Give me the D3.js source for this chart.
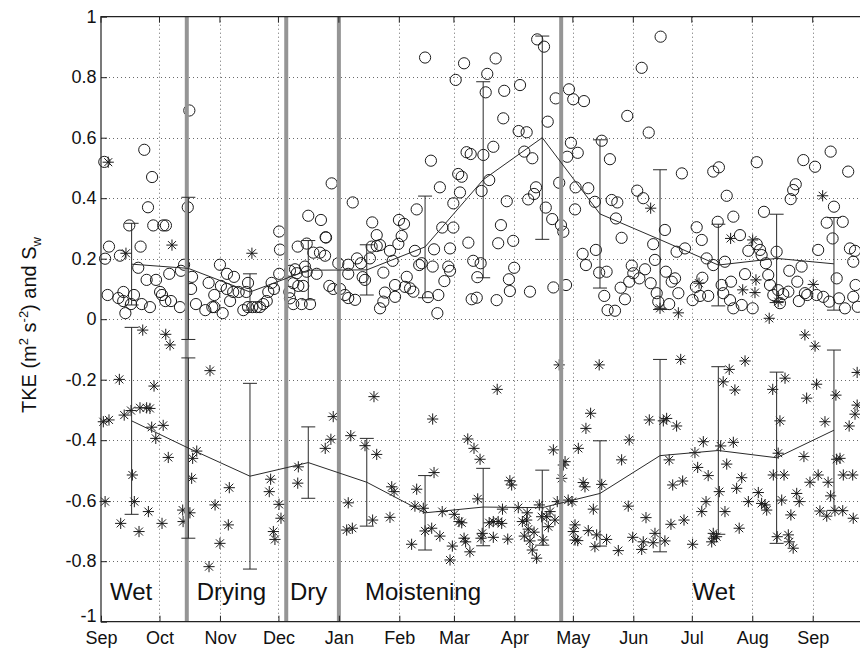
<!DOCTYPE html>
<html>
<head>
<meta charset="utf-8">
<script src="https://cdn.jsdelivr.net/npm/d3@7/dist/d3.min.js"></script>
<style>
  body { margin: 0; background: #fff; }
  svg { display: block; }
  text { font-family: "Liberation Sans", Arial, Helvetica, sans-serif; fill: #111; }
</style>
</head>
<body>
<svg id="chart" width="860" height="649"></svg>
<script>
// ---- data -------------------------------------------------------------
// Day numbers count days since 1 September of the first year.
const yTickValues = [-1, -0.8, -0.6, -0.4, -0.2, 0, 0.2, 0.4, 0.6, 0.8, 1];
const yTickLabels = ["-1", "-0.8", "-0.6", "-0.4", "-0.2", "0", "0.2", "0.4", "0.6", "0.8", "1"];
const monthLabels = ["Sep", "Oct", "Nov", "Dec", "Jan", "Feb", "Mar", "Apr", "May", "Jun", "Jul", "Aug", "Sep"];

// season boundaries (days) and season names
const seasonBoundaryDays = [44, 95, 122, 236];
const seasonNames = ["Wet", "Drying", "Dry", "Moistening", "Wet"];
const seasonLabelDays = [4.6, 49.1, 96.9, 135.4, 303.4];
const seasonLabelLevel = -0.928;

// monthly bins: centre day, mean and standard deviation
const binDays = [15.7, 44.8, 76.4, 106.3, 136.3, 166.2, 196, 226.3, 255.9, 286.7, 316.6, 346.5, 375.9];
const tkeMean = [0.182, 0.168, 0.090, 0.162, 0.163, 0.239, 0.461, 0.600, 0.348, 0.263, 0.179, 0.201, 0.183];
const tkeStd  = [0.135, 0.235, 0.060, 0.098, 0.083, 0.168, 0.324, 0.336, 0.245, 0.231, 0.135, 0.146, 0.153];
const swMean  = [-0.336, -0.426, -0.519, -0.474, -0.539, -0.640, -0.621, -0.623, -0.576, -0.451, -0.434, -0.458, -0.367];
const swStd   = [0.309, 0.298, 0.307, 0.118, 0.145, 0.123, 0.128, 0.124, 0.174, 0.318, 0.277, 0.283, 0.265];

// daily TKE (circles): [day, value]
const tkePoints = [
[1.7,0.52],[45.3,0.69],[22.2,0.56],[26.2,0.47],[24.1,0.37],[44.5,0.37],[14.5,0.31],[26.8,0.31],[31.9,0.31],[33.3,0.31],
[4.1,0.24],[2.1,0.20],[9.7,0.21],[20.3,0.24],[91.4,0.29],[91.8,0.23],[100.9,0.24],[19.1,0.17],[23.4,0.13],[28.2,0.13],
[35.0,0.15],[41.0,0.16],[42.6,0.18],[46.7,0.14],[46.2,0.10],[55.2,0.12],[61.0,0.18],[64.6,0.15],[68.2,0.14],[61.5,0.11],
[67.8,0.09],[70.6,0.09],[75.4,0.12],[74.5,0.09],[3.4,0.08],[8.9,0.07],[11.5,0.09],[16.9,0.08],[11.4,0.06],[15.4,0.05],
[20.9,0.05],[12.5,0.02],[25.1,0.04],[30.3,0.09],[31.3,0.08],[33.0,0.06],[35.9,0.06],[40.5,0.04],[48.7,0.05],[53.5,0.03],
[57.1,0.04],[58.1,0.04],[62.4,0.02],[58.1,0.08],[66.2,0.06],[73.0,0.03],[75.4,0.04],[77.6,0.04],[79.8,0.04],[81.5,0.04],
[83.2,0.05],[85.0,0.06],[85.8,0.09],[88.7,0.10],[91.4,0.15],[96.6,0.09],[98.6,0.05],[99.5,0.165],[101.2,0.11],[64.5,0.10],
[87.5,0.12],[96.9,0.16],[102.9,0.05],[107.2,0.05],[105.5,0.25],[108.9,0.22],[112.3,0.22],[114.9,0.21],[115.4,0.27],[110.6,0.15],
[103.7,0.11],[117.1,0.11],[119.1,0.10],[122.6,0.10],[125.1,0.08],[126.8,0.07],[121.7,0.185],[126.8,0.18],[126.8,0.15],
[166.2,0.865],[186.2,0.846],[202.4,0.862],[181.9,0.791],[198.1,0.811],[197.3,0.75],[206.8,0.755],[214.9,0.774],[223.7,0.925],[227.2,0.901],
[233.2,0.73],[240.0,0.76],[242.2,0.727],[206.3,0.664],[229.1,0.653],[214.2,0.622],[218.3,0.618],[201.2,0.57],[187.5,0.552],[189.6,0.546],
[196.1,0.543],[217.1,0.554],[221.2,0.532],[239.1,0.537],[241.0,0.583],[244.5,0.55],[169.2,0.524],[183.2,0.48],[185.0,0.471],[199.1,0.46],
[235.0,0.451],[243.4,0.436],[173.8,0.436],[184.1,0.419],[195.2,0.424],[223.1,0.436],[222.1,0.414],[219.1,0.396],[208.1,0.39],[180.7,0.383],
[118.3,0.449],[129.1,0.386],[161.9,0.363],[228.1,0.369],[231.4,0.331],[235.9,0.311],[237.1,0.289],[243.1,0.363],[106.3,0.342],[112.8,0.328],
[115.2,0.271],[139.1,0.32],[141.4,0.278],[152.8,0.328],[155.4,0.315],[154.2,0.275],[152.5,0.249],[175.0,0.303],[180.7,0.303],[205.1,0.311],
[138.8,0.24],[141.4,0.242],[143.1,0.245],[148.2,0.226],[149.6,0.193],[161.0,0.226],[170.8,0.231],[179.0,0.234],[188.4,0.253],[203.7,0.251],
[211.4,0.259],[131.3,0.201],[133.3,0.185],[144.8,0.154],[156.8,0.14],[163.2,0.179],[164.5,0.185],[170.1,0.174],[178.1,0.174],[179.0,0.16],
[190.9,0.193],[194.7,0.185],[193.0,0.139],[176.1,0.126],[211.9,0.17],[209.2,0.132],[209.7,0.093],[220.0,0.091],[232.0,0.105],[238.5,0.113],
[100.4,0.152],[98.6,0.119],[96.9,0.069],[104.6,0.174],[105.5,0.157],[130.3,0.064],[134.2,0.139],[135.4,0.13],[145.6,0.088],[144.8,0.058],
[143.1,0.036],[150.8,0.113],[155.9,0.107],[158.5,0.102],[160.2,0.091],[150.8,0.074],[167.7,0.073],[173.0,0.08],[172.5,0.02],[190.1,0.066],
[192.7,0.071],[202.9,0.063],[137.9,0.201],
[287.0,0.934],[277.3,0.831],[247.7,0.721],[269.9,0.672],[280.9,0.617],[256.8,0.59],[261.0,0.529],[297.9,0.482],[314.0,0.488],[316.9,0.502],
[336.3,0.519],[360.2,0.526],[366.2,0.504],[374.2,0.554],[383.2,0.488],[249.9,0.433],[253.3,0.388],[261.9,0.394],[264.8,0.386],[275.0,0.425],
[278.1,0.4],[320.9,0.408],[353.7,0.397],[355.0,0.427],[356.3,0.446],[264.1,0.333],[267.0,0.269],[289.2,0.295],[283.2,0.248],[305.5,0.304],
[308.1,0.262],[316.3,0.322],[324.3,0.339],[340.0,0.355],[372.2,0.319],[375.9,0.372],[380.4,0.322],[375.2,0.267],[346.5,0.223],[367.8,0.229],
[384.1,0.234],[386.7,0.226],[247.0,0.216],[248.7,0.179],[253.8,0.229],[255.5,0.154],[259.3,0.157],[258.1,0.077],[259.8,0.03],[263.6,0.028],
[266.5,0.104],[268.7,0.066],[272.2,0.177],[273.0,0.152],[270.9,0.124],[276.1,0.135],[279.0,0.165],[281.9,0.119],[285.0,0.086],[284.1,0.196],
[289.7,0.157],[292.7,0.124],[294.4,0.135],[296.1,0.086],[291.4,0.05],[299.5,0.234],[303.4,0.063],[307.2,0.077],[311.4,0.077],[305.1,0.107],
[308.4,0.137],[310.6,0.201],[314.0,0.179],[318.3,0.113],[319.1,0.086],[322.6,0.063],[324.3,0.036],[328.6,0.047],[320.0,0.19],[323.1,0.124],
[330.3,0.149],[332.0,0.226],[336.3,0.248],[338.0,0.229],[338.8,0.212],[341.0,0.185],[342.2,0.146],[343.1,0.113],[344.8,0.08],[334.2,0.036],
[347.3,0.096],[349.9,0.083],[352.5,0.091],[348.2,0.053],[353.0,0.16],[357.9,0.06],[361.0,0.086],[362.2,0.08],[367.0,0.08],[370.4,0.074],
[359.3,0.174],[357.1,0.124],[373.5,0.058],[377.3,0.135],[381.5,0.036],[385.8,0.074],[388.1,0.041],[387.0,0.113],[327.7,0.278],[385.8,0.19],
[295.2,0.223],[285.8,0.058],[378.5,0.069]
];

// daily S_w (asterisks): [day, value]
const swPoints = [
[3.7,0.519],[12.8,0.218],[36.4,0.245],[77.4,0.218],[281.9,0.367],[322.9,0.267],[334.2,0.262],[370.1,0.408],[306.7,0.119],[329.1,0.097],
[335.9,0.130],[335.4,0.088],[286.7,0.036],[296.1,0.021],[342.7,0.003],[365.3,0.115],[347.3,0.058],
[21.4,-0.036],[33.2,-0.050],[35.4,-0.085],[9.4,-0.199],[27.2,-0.221],[55.9,-0.170],[1.2,-0.339],[4.1,-0.333],[11.9,-0.317],[15.4,-0.302],
[20.0,-0.293],[23.4,-0.293],[25.1,-0.295],[26.0,-0.357],[28.1,-0.394],[31.9,-0.351],[34.5,-0.457],[16.1,-0.515],[2.1,-0.603],[17.1,-0.603],
[24.3,-0.636],[10.1,-0.675],[19.5,-0.702],[31.3,-0.675],[41.9,-0.631],[42.1,-0.669],[45.6,-0.640],[47.0,-0.460],[49.1,-0.436],[46.5,-0.526],
[65.8,-0.557],[58.5,-0.614],[65.3,-0.680],[61.0,-0.741],[55.4,-0.818],[87.0,-0.529],[86.3,-0.570],[91.3,-0.612],[92.3,-0.658],[88.4,-0.702],
[89.2,-0.728],[101.2,-0.488],[100.9,-0.542],[119.1,-0.322],[117.9,-0.397],[115.0,-0.427],[126.8,-0.607],[126.0,-0.697],[128.9,-0.691],[128.1,-0.385],
[140.0,-0.256],[135.4,-0.418],[141.4,-0.447],[139.3,-0.664],[148.2,-0.655],[149.1,-0.554],[150.3,-0.570],[170.1,-0.330],[203.2,-0.232],[235.0,-0.151],
[170.8,-0.507],[161.9,-0.562],[161.0,-0.618],[165.3,-0.625],[166.2,-0.700],[169.6,-0.691],[159.3,-0.744],[173.8,-0.717],[175.0,-0.636],[180.2,-0.750],
[179.0,-0.796],[181.2,-0.645],[183.6,-0.669],[185.0,-0.673],[186.2,-0.724],[187.0,-0.736],[189.2,-0.769],[188.1,-0.396],[191.3,-0.427],[194.4,-0.463],
[193.2,-0.594],[194.9,-0.724],[195.5,-0.708],[199.1,-0.673],[201.2,-0.669],[203.7,-0.669],[205.5,-0.675],[201.2,-0.721],[205.9,-0.628],[208.6,-0.727],
[209.7,-0.534],[210.6,-0.548],[214.0,-0.623],[216.1,-0.669],[218.3,-0.664],[218.6,-0.640],[217.1,-0.717],[220.0,-0.733],[221.2,-0.763],[223.4,-0.790],
[222.1,-0.704],[224.8,-0.614],[226.0,-0.653],[226.8,-0.730],[228.6,-0.653],[229.4,-0.686],[230.3,-0.636],[232.8,-0.664],[232.0,-0.432],[238.0,-0.471],
[237.1,-0.482],[236.3,-0.526],[234.0,-0.603],[239.6,-0.598],[242.2,-0.702],[243.1,-0.680],[243.1,-0.730],[244.5,-0.732],[244.8,-0.427],[251.1,-0.311],
[248.7,-0.361],[247.3,-0.540],[248.2,-0.554],[252.5,-0.628],[249.9,-0.699],[254.2,-0.713],[253.3,-0.752],[255.5,-0.151],[256.8,-0.546],[259.3,-0.728],
[265.3,-0.765],[267.0,-0.465],[270.9,-0.399],[270.4,-0.618],[272.7,-0.721],[277.3,-0.761],[278.1,-0.736],[279.5,-0.656],[281.2,-0.333],[288.4,-0.336],
[290.1,-0.328],[295.2,-0.353],[297.3,-0.133],[291.4,-0.465],[293.2,-0.548],[298.3,-0.535],[284.1,-0.708],[283.2,-0.739],[289.2,-0.733],[292.3,-0.678],
[299.0,-0.664],[303.4,-0.744],[304.6,-0.441],[308.9,-0.405],[306.0,-0.490],[311.4,-0.517],[310.3,-0.603],[308.1,-0.636],[314.0,-0.708],[314.4,-0.724],
[313.2,-0.736],[315.7,-0.719],[317.1,-0.570],[317.8,-0.419],[319.1,-0.207],[322.2,-0.166],[325.1,-0.234],[320.9,-0.479],[324.3,-0.407],[328.6,-0.524],
[326.0,-0.559],[320.0,-0.636],[327.3,-0.691],[330.3,-0.138],[332.0,-0.603],[337.1,-0.573],[338.8,-0.609],[340.5,-0.614],[341.4,-0.631],[344.5,-0.232],
[344.8,-0.515],[347.3,-0.443],[348.2,-0.336],[350.3,-0.515],[349.1,-0.598],[346.8,-0.719],[352.5,-0.713],[353.0,-0.736],[355.0,-0.757],[353.8,-0.647],
[356.8,-0.576],[358.1,-0.603],[350.8,-0.195],[361.0,-0.052],[366.2,-0.089],[367.0,-0.215],[361.9,-0.261],[371.3,-0.339],[360.5,-0.454],[363.6,-0.539],
[367.8,-0.515],[372.9,-0.539],[374.2,-0.584],[368.7,-0.634],[372.2,-0.651],[376.4,-0.633],[380.4,-0.633],[376.9,-0.251],[377.3,-0.463],[379.0,-0.460],
[380.7,-0.515],[385.5,-0.515],[383.7,-0.353],[386.7,-0.314],[387.8,-0.176],[385.8,-0.658],[387.8,-0.284],[241.6,-0.603],[219.1,-0.694]
];

// ---- layout -----------------------------------------------------------
const plot = { left: 101, top: 16.7, bottom: 621.7 };
const pxPerDay = 711.7 / 365;
const t0 = Date.UTC(2002, 8, 1);
const tEnd = Date.UTC(2003, 9, 1);
const toDate = d => new Date(t0 + d * 864e5);

const x = d3.scaleUtc()
  .domain([new Date(t0), new Date(tEnd)])
  .range([plot.left, plot.left + (tEnd - t0) / 864e5 * pxPerDay]);
const y = d3.scaleLinear().domain([-1, 1]).range([plot.bottom, plot.top]);
const monthDates = d3.utcMonth.range(new Date(t0), new Date(Date.UTC(2003, 8, 2)));

const svg = d3.select("#chart");
const xRight = x.range()[1];

// ---- grid -------------------------------------------------------------
const grid = svg.append("g").attr("stroke", "#6a6a6a").attr("stroke-width", 1)
  .attr("stroke-dasharray", "1,3");
grid.selectAll(".gy").data(yTickValues.filter(v => v > -1 && v < 1)).join("line")
  .attr("x1", plot.left).attr("x2", xRight)
  .attr("y1", d => Math.round(y(d)) + 0.5).attr("y2", d => Math.round(y(d)) + 0.5);
grid.selectAll(".gx").data(monthDates.slice(1)).join("line")
  .attr("y1", plot.top).attr("y2", plot.bottom)
  .attr("x1", d => Math.round(x(d)) + 0.5).attr("x2", d => Math.round(x(d)) + 0.5);

// ---- markers ----------------------------------------------------------
const marks = svg.append("g");
marks.selectAll("circle.tke").data(tkePoints).join("circle")
  .attr("class", "tke")
  .attr("cx", d => x(toDate(d[0])))
  .attr("cy", d => y(d[1]))
  .attr("r", 5.6)
  .attr("fill", "none")
  .attr("stroke", "#1a1a1a")
  .attr("stroke-width", 1);

const s = 5.6, k = 4.0;
const starPath = `M${-s},0H${s}M0,${-s}V${s}M${-k},${-k}L${k},${k}M${-k},${k}L${k},${-k}`;
marks.selectAll("path.sw").data(swPoints).join("path")
  .attr("class", "sw")
  .attr("transform", d => `translate(${x(toDate(d[0]))},${y(d[1])})`)
  .attr("d", starPath)
  .attr("fill", "none")
  .attr("stroke", "#1a1a1a")
  .attr("stroke-width", 1);

// ---- season boundaries --------------------------------------------------
svg.append("g").selectAll("line").data(seasonBoundaryDays).join("line")
  .attr("x1", d => x(toDate(d))).attr("x2", d => x(toDate(d)))
  .attr("y1", plot.top).attr("y2", plot.bottom)
  .attr("stroke", "#959595").attr("stroke-width", 4);

// ---- monthly means with standard-deviation bars -------------------------
function drawSeries(means, stds) {
  const g = svg.append("g").attr("stroke", "#2a2a2a").attr("stroke-width", 1).attr("fill", "none");
  const pts = binDays.map((d, i) => ({ d, m: means[i], sd: stds[i] }));
  g.append("path")
    .attr("d", d3.line().x(p => x(toDate(p.d))).y(p => y(p.m))(pts));
  const cap = 7;
  pts.forEach(p => {
    const cx = x(toDate(p.d));
    const yt = y(p.m + p.sd), yb = y(p.m - p.sd);
    g.append("line").attr("x1", cx).attr("x2", cx).attr("y1", yt).attr("y2", yb);
    g.append("line").attr("x1", cx - cap).attr("x2", cx + cap).attr("y1", yt).attr("y2", yt);
    g.append("line").attr("x1", cx - cap).attr("x2", cx + cap).attr("y1", yb).attr("y2", yb);
  });
}
drawSeries(tkeMean, tkeStd);
drawSeries(swMean, swStd);

// ---- axes frame and ticks ------------------------------------------------
svg.append("path")
  .attr("d", `M${xRight},${plot.top}H${plot.left}V${plot.bottom}H${xRight}`)
  .attr("fill", "none").attr("stroke", "#222").attr("stroke-width", 1.2);

const yAxis = d3.axisLeft(y).tickValues(yTickValues)
  .tickFormat((d, i) => yTickLabels[i]).tickSizeInner(-6).tickSizeOuter(0).tickPadding(4.5);
const gy = svg.append("g").attr("transform", `translate(${plot.left},0)`).call(yAxis);
gy.select(".domain").remove();
gy.selectAll("line").attr("stroke", "#222");
gy.selectAll("text").attr("font-size", 18).attr("fill", "#111")
  .style("font-family", '"Liberation Sans", Arial, sans-serif');
// the lowest label sits a little above its tick so it clears the month names
gy.selectAll(".tick").filter(d => d === -1).select("text").attr("y", -6);

const xAxis = d3.axisBottom(x).tickValues(monthDates)
  .tickFormat((d, i) => monthLabels[i]).tickSizeInner(-6).tickSizeOuter(0).tickPadding(10);
const gx = svg.append("g").attr("transform", `translate(0,${plot.bottom})`).call(xAxis);
gx.select(".domain").remove();
gx.selectAll("line").attr("stroke", "#222");
gx.selectAll("text").attr("font-size", 18).attr("fill", "#111")
  .style("font-family", '"Liberation Sans", Arial, sans-serif');

// top ticks
svg.append("g").selectAll("line").data(monthDates).join("line")
  .attr("x1", d => x(d)).attr("x2", d => x(d))
  .attr("y1", plot.top).attr("y2", plot.top + 6)
  .attr("stroke", "#222");

// ---- season names ---------------------------------------------------------
svg.append("g").selectAll("text").data(seasonNames).join("text")
  .attr("x", (d, i) => x(toDate(seasonLabelDays[i])))
  .attr("y", y(seasonLabelLevel))
  .attr("font-size", 24)
  .text(d => d);

// ---- y-axis title -----------------------------------------------------------
const title = svg.append("text")
  .attr("transform", `translate(36,325) rotate(-90)`)
  .attr("text-anchor", "middle")
  .attr("font-size", 20);
title.append("tspan").text("TKE (m");
title.append("tspan").attr("font-size", 13).attr("dy", -8).text("2");
title.append("tspan").attr("dy", 8).text(" s");
title.append("tspan").attr("font-size", 13).attr("dy", -8).text("-2");
title.append("tspan").attr("dy", 8).text(")  and S");
title.append("tspan").attr("font-size", 13).attr("dy", 5).text("w");
</script>
</body>
</html>
